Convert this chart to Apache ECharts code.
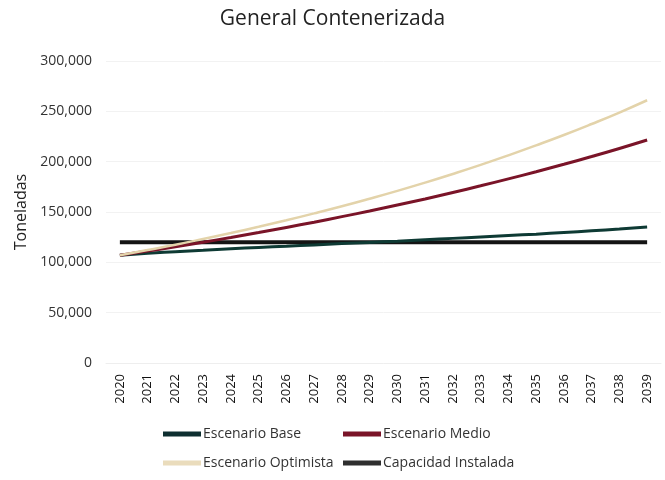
<!DOCTYPE html>
<html>
<head>
<meta charset="utf-8">
<script src="https://cdn.jsdelivr.net/npm/echarts@6/dist/echarts.min.js"></script>
<style>html,body{margin:0;padding:0;background:#fff}#c{width:665px;height:480px}</style>
</head>
<body>
<div id="c"></div>
<script>
var years = ['2020','2021','2022','2023','2024','2025','2026','2027','2028','2029','2030','2031','2032','2033','2034','2035','2036','2037','2038','2039'];
var escenarioBase = [107000,109000,110500,112000,113500,114800,116000,117300,118600,119800,121000,122400,123800,125200,126600,128000,129600,131300,133100,135000];
var escenarioMedio = [107000,111200,115500,120000,124700,129600,134700,139900,145400,151000,156900,163000,169400,176000,182900,190000,197400,205100,213100,221500];
var escenarioOptimista = [107000,112200,117500,123200,129100,135300,141800,148600,155700,163200,171000,179200,187800,196800,206300,216200,226500,237400,248800,261000];
var capacidadInstalada = [120000,120000,120000,120000,120000,120000,120000,120000,120000,120000,120000,120000,120000,120000,120000,120000,120000,120000,120000,120000];
var seriesNames = ['Escenario Base','Escenario Medio','Escenario Optimista','Capacidad Instalada'];

var font = 'Open Sans';
function leg(name, left, top, color) {
  return {
    data: [name], left: left, top: top, icon: 'rect', itemWidth: 38, itemHeight: 5,
    selectedMode: false,
    itemStyle: {color: color},
    textStyle: {fontFamily: font, fontSize: 14, color: '#333', padding: [0,0,0,-3]}
  };
}
var chart = echarts.init(document.getElementById('c'));
chart.setOption({
  animation: false,
  title: {text: 'General Contenerizada', left: 'center', top: 4,
    textStyle: {fontFamily: font, fontSize: 21, fontWeight: 'normal', color: '#222'}},
  grid: {left: 106, right: 4, top: 61, bottom: 117},
  legend: [
    leg(seriesNames[0], 158, 422, '#0e2f30'),
    leg(seriesNames[1], 338, 422, '#7a1428'),
    leg(seriesNames[2], 158, 451, '#eadcbc'),
    leg(seriesNames[3], 338, 451, '#2e2e2e')
  ],
  xAxis: {
    type: 'category', data: years, boundaryGap: true,
    axisLine: {lineStyle: {color: '#eeeeee'}}, axisTick: {show: false},
    axisLabel: {rotate: 90, fontFamily: font, fontSize: 13, color: '#111', margin: 11, interval: 0}
  },
  yAxis: {
    type: 'value', min: 0, max: 300000, interval: 50000,
    name: 'Toneladas', nameLocation: 'middle', nameGap: 76, nameRotate: 90,
    nameTextStyle: {fontFamily: font, fontSize: 16, color: '#222'},
    axisLine: {show: false}, axisTick: {show: false},
    splitLine: {lineStyle: {color: '#f2f2f2'}},
    axisLabel: {fontFamily: font, fontSize: 14, color: '#333', margin: 14,
      formatter: function (v) { return v.toLocaleString('en-US'); }}
  },
  series: [
    {name: seriesNames[3], type: 'line', data: capacidadInstalada, symbol: 'none', z: 1,
      lineStyle: {color: '#141414', width: 4}, itemStyle: {color: '#2e2e2e'}},
    {name: seriesNames[0], type: 'line', data: escenarioBase, symbol: 'none', smooth: true, z: 2,
      lineStyle: {color: '#0e3a34', width: 3}, itemStyle: {color: '#0e2f30'}},
    {name: seriesNames[1], type: 'line', data: escenarioMedio, symbol: 'none', smooth: true, z: 3,
      lineStyle: {color: '#7a1428', width: 3}, itemStyle: {color: '#7a1428'}},
    {name: seriesNames[2], type: 'line', data: escenarioOptimista, symbol: 'none', smooth: true, z: 4,
      lineStyle: {color: '#e3d3aa', width: 2.5}, itemStyle: {color: '#eadcbc'}}
  ]
});
</script>
</body>
</html>
